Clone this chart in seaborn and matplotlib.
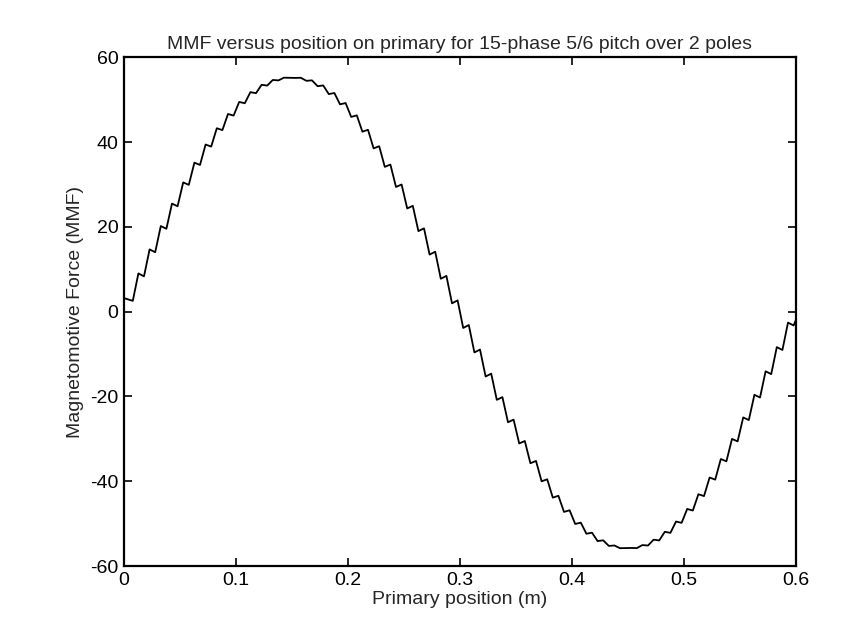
import numpy as np
import pandas as pd
import matplotlib
matplotlib.use('Agg')
import matplotlib.pyplot as plt
import seaborn as sns

# samples along the primary: x = 0, then every 5 mm starting at 8 mm, then 0.6
position = np.concatenate([[0.0], np.round(0.003 + 0.005 * np.arange(1, 120), 3), [0.6]])

mmf = [3.2,
       2.55, 9.02, 8.33, 14.69, 14.02, 20.19, 19.55, 25.48, 24.86, 30.48,
       29.90, 35.14, 34.60, 39.41, 38.93, 43.25, 42.82, 46.62, 46.24, 49.46,
       49.15, 51.77, 51.52, 53.50, 53.32, 54.64, 54.54, 55.18, 55.15, 55.12,
       55.16, 54.44, 54.55, 53.17, 53.35, 51.31, 51.56, 48.89, 49.20, 45.92,
       46.30, 42.45, 42.89, 38.51, 39.01, 34.15, 34.69, 29.41, 29.99, 24.34,
       24.96, 19.00, 19.65, 13.46, 14.13, 7.76, 8.44, 1.97, 2.66, -3.84,
       -3.15, -9.62, -8.93, -15.29, -14.62, -20.79, -20.15, -26.08, -25.46, -31.08,
       -30.50, -35.74, -35.20, -40.01, -39.53, -43.85, -43.42, -47.22, -46.84, -50.06,
       -49.75, -52.37, -52.12, -54.10, -53.92, -55.24, -55.14, -55.78, -55.75, -55.72,
       -55.76, -55.04, -55.15, -53.77, -53.95, -51.91, -52.16, -49.49, -49.80, -46.52,
       -46.90, -43.05, -43.49, -39.11, -39.61, -34.75, -35.29, -30.01, -30.59, -24.94,
       -25.56, -19.60, -20.25, -14.06, -14.73, -8.36, -9.04, -2.57, -3.26,
       -2.0]

x_ticks = [0, 0.1, 0.2, 0.3, 0.4, 0.5, 0.6]
x_tick_labels = ['0', '0.1', '0.2', '0.3', '0.4', '0.5', '0.6']
y_ticks = [-60, -40, -20, 0, 20, 40, 60]
y_tick_labels = ['-60', '-40', '-20', '0', '20', '40', '60']

df = pd.DataFrame({'position': position, 'mmf': mmf})

sns.set_theme(style='ticks')
plt.rcParams['font.family'] = ['Liberation Sans', 'DejaVu Sans']

fig = plt.figure(figsize=(8.66, 6.29), dpi=100, facecolor='white')
ax = fig.add_axes([0.143, 0.100, 0.776, 0.809])
sns.lineplot(data=df, x='position', y='mmf', color='black', linewidth=1.3,
             estimator=None, sort=False, ax=ax)

ax.set_xlim(0, 0.6)
ax.set_ylim(-60, 60)
ax.set_xticks(x_ticks)
ax.set_xticklabels(x_tick_labels)
ax.set_yticks(y_ticks)
ax.set_yticklabels(y_tick_labels)
ax.tick_params(direction='in', length=6, width=1.2, top=True, right=True,
               labelsize=14, colors='black', pad=4)
for s in ax.spines.values():
    s.set_visible(True)
    s.set_linewidth(1.6)
    s.set_color('black')

ax.set_title('MMF versus position on primary for 15-phase 5/6 pitch over 2 poles',
             fontsize=14, pad=6)
ax.set_xlabel('Primary position (m)', fontsize=14, labelpad=2)
ax.set_ylabel('Magnetomotive Force (MMF)', fontsize=14, labelpad=4)

fig.savefig('out.png', dpi=100, facecolor='white')
